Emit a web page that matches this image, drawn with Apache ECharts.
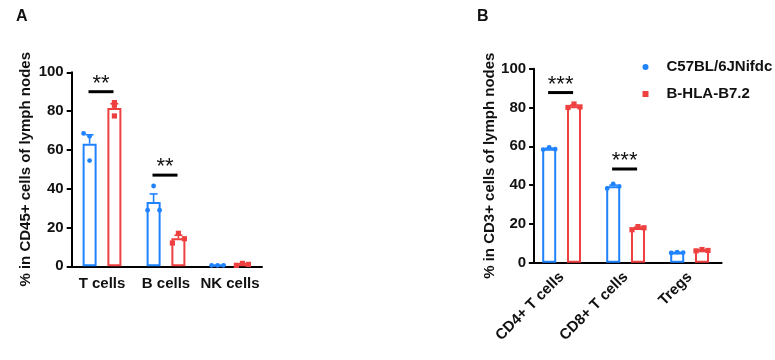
<!DOCTYPE html>
<html>
<head>
<meta charset="utf-8">
<script src="https://cdn.jsdelivr.net/npm/echarts@6/dist/echarts.min.js"></script>
<style>html,body{margin:0;padding:0;background:#fff;}#c{width:775px;height:360px;}</style>
</head>
<body>
<div id="c"></div>
<script>
// ---------- DATA ----------
const seriesNames = ['C57BL/6JNifdc', 'B-HLA-B7.2'];

// Panel A
const catsA = ['T cells', 'B cells', 'NK cells'];
const wtMeanA = [63.2, 33.1, 0.5];
const wtSemA = [4.6, 4.2, 0.05];
const wtPtsA = [[68.5, 67, 54.5], [41.4, 28.9, 28.9], [0.5, 0.5, 0.5]];
const koMeanA = [81.6, 14.4, 1.0];
const koSemA = [2.2, 1.6, 0.3];
const koPtsA = [[84.4, 83, 77.5], [12, 17, 14.2], [0.5, 1.5, 1.0]];
const sigYA = [90, 47, null];
const sigLabA = ['**', '**', ''];

// Panel B
const catsB = ['CD4+ T cells', 'CD8+ T cells', 'Tregs'];
const wtMeanB = [58.7, 39.4, 5.2];
const wtSemB = [0.35, 0.6, 0.15];
const wtPtsB = [[58.3, 59.4, 58.5], [38.3, 40.6, 39.3], [5.0, 5.5, 5.2]];
const koMeanB = [80.7, 17.9, 6.4];
const koSemB = [0.55, 0.45, 0.2];
const koPtsB = [[80.0, 81.8, 80.3], [17.0, 18.6, 18.0], [6.1, 6.8, 6.3]];
const sigYB = [87.7, 48.3, null];
const sigLabB = ['***', '***', ''];

const yTicks = [0, 20, 40, 60, 80, 100];

// ---------- STYLE ----------
const BLUE = '#1f82ff';
const RED = '#ef4040';
const FONT = '"Liberation Sans", Arial, sans-serif';
const GROUP_OFF = 12.4;   // px from category centre to each bar centre
const JIT = 6;            // px horizontal jitter step for points
const jitA = { wt: [[-1, 0, 0], [0, -1, 1], [-1, 0, 1]], ko: [[0, 0, 0], [-1, 0, 1], [-1, 0, 1]] };
const jitB = { wt: [[-1, 0, 1], [-1, 0, 1], [-1, 0, 1]], ko: [[-1, 0, 1], [-1, 0, 1], [-1, 0, 1]] };

function ptsData(pts, jit) {
  const out = [];
  pts.forEach((arr, ci) => arr.forEach((v, k) => out.push([ci, v, jit[ci][k]])));
  return out;
}

function barSeries(name, data, color, axisIdx) {
  return {
    name: name, type: 'bar', xAxisIndex: axisIdx, yAxisIndex: axisIdx,
    data: data, barWidth: 14, barGap: '77%',
    itemStyle: { color: '#fff', borderColor: color, borderWidth: 2 },
    silent: true, z: 2
  };
}

function errSeries(means, sems, color, sign, axisIdx) {
  return {
    type: 'custom', xAxisIndex: axisIdx, yAxisIndex: axisIdx, z: 3, silent: true,
    data: means.map((m, i) => [i, m, sems[i]]),
    renderItem: function (params, api) {
      const c = api.value(0), m = api.value(1), s = api.value(2);
      const p0 = api.coord([c, m]);
      const p1 = api.coord([c, m + s]);
      const x = p0[0] + sign * GROUP_OFF;
      return {
        type: 'group', children: [
          { type: 'line', shape: { x1: x, y1: p0[1], x2: x, y2: p1[1] }, style: { stroke: color, lineWidth: 1.6 } },
          { type: 'line', shape: { x1: x - 4, y1: p1[1], x2: x + 4, y2: p1[1] }, style: { stroke: color, lineWidth: 1.6 } }
        ]
      };
    }
  };
}

function ptSeries(data, color, sign, shape, axisIdx) {
  return {
    type: 'custom', xAxisIndex: axisIdx, yAxisIndex: axisIdx, z: 4, silent: true,
    data: data,
    renderItem: function (params, api) {
      const p = api.coord([api.value(0), api.value(1)]);
      const x = p[0] + sign * GROUP_OFF + api.value(2) * JIT;
      if (shape === 'circle') {
        return { type: 'circle', shape: { cx: x, cy: p[1], r: 2.4 }, style: { fill: color } };
      }
      return { type: 'rect', shape: { x: x - 2.6, y: p[1] - 2.6, width: 5.2, height: 5.2 }, style: { fill: color } };
    }
  };
}

function sigSeries(ys, labs, axisIdx) {
  const d = [];
  ys.forEach((y, i) => { if (y !== null) d.push([i, y, labs[i]]); });
  return {
    type: 'custom', xAxisIndex: axisIdx, yAxisIndex: axisIdx, z: 5, silent: true,
    data: d,
    renderItem: function (params, api) {
      const i = params.dataIndex;
      const p = api.coord([d[i][0], d[i][1]]);
      return {
        type: 'group', children: [
          { type: 'line', shape: { x1: p[0] - 13.5, y1: p[1], x2: p[0] + 11.5, y2: p[1] }, style: { stroke: '#000', lineWidth: 3 } },
          { type: 'text', style: { text: d[i][2], x: p[0] - 1, y: p[1] - 8, align: 'center', verticalAlign: 'middle',
              fill: '#111', font: 'normal 22px ' + FONT } }
        ]
      };
    }
  };
}

const axisTxt = { color: '#111', fontFamily: FONT, fontWeight: 'bold', fontSize: 15 };

function xAxis(cats, gridIdx, rotate) {
  return {
    type: 'category', gridIndex: gridIdx, data: cats,
    axisLine: { lineStyle: { color: '#000', width: 2 } },
    axisTick: { alignWithLabel: true, length: 6, lineStyle: { color: '#000', width: 2 } },
    axisLabel: Object.assign({ margin: rotate ? 12 : 10, rotate: rotate, interval: 0 }, axisTxt)
  };
}

function yAxis(name, gridIdx, offset, gap) {
  return {
    type: 'value', gridIndex: gridIdx, min: yTicks[0], max: yTicks[yTicks.length - 1], interval: 20,
    offset: offset,
    name: name, nameLocation: 'middle', nameGap: gap, nameTextStyle: axisTxt,
    splitLine: { show: false },
    axisLine: { show: true, lineStyle: { color: '#000', width: 2 } },
    axisTick: { show: true, length: 5, lineStyle: { color: '#000', width: 2 } },
    axisLabel: Object.assign({ margin: 8 }, axisTxt)
  };
}

const option = {
  backgroundColor: '#fff',
  animation: false,
  title: [
    { text: 'A', left: 11, top: 4, textStyle: { fontFamily: FONT, fontWeight: 'bold', fontSize: 16, color: '#111' } },
    { text: 'B', left: 472, top: 4, textStyle: { fontFamily: FONT, fontWeight: 'bold', fontSize: 16, color: '#111' } }
  ],
  legend: {
    orient: 'vertical', left: 637.5, top: 53, itemWidth: 6, itemHeight: 6, itemGap: 9,
    selectedMode: false,
    textStyle: { fontFamily: FONT, fontWeight: 'bold', fontSize: 15, color: '#111', padding: [0, 0, 0, 13], lineHeight: 18 },
    data: [
      { name: seriesNames[0], icon: 'circle', itemStyle: { color: BLUE, borderWidth: 0 } },
      { name: seriesNames[1], icon: 'rect', itemStyle: { color: RED, borderWidth: 0 } }
    ]
  },
  grid: [
    { left: 70, top: 72.3, width: 192, height: 194 },
    { left: 529.6, top: 68.7, width: 192, height: 194 }
  ],
  xAxis: [xAxis(catsA, 0, 0), xAxis(catsB, 1, 45)],
  yAxis: [yAxis('% in CD45+ cells of lymph nodes', 0, -1.7, 38), yAxis('% in CD3+ cells of lymph nodes', 1, -4.5, 36)],
  series: [
    barSeries(seriesNames[0], wtMeanA, BLUE, 0),
    barSeries(seriesNames[1], koMeanA, RED, 0),
    errSeries(wtMeanA, wtSemA, BLUE, -1, 0),
    errSeries(koMeanA, koSemA, RED, 1, 0),
    ptSeries(ptsData(wtPtsA, jitA.wt), BLUE, -1, 'circle', 0),
    ptSeries(ptsData(koPtsA, jitA.ko), RED, 1, 'rect', 0),
    sigSeries(sigYA, sigLabA, 0),

    barSeries(seriesNames[0], wtMeanB, BLUE, 1),
    barSeries(seriesNames[1], koMeanB, RED, 1),
    errSeries(wtMeanB, wtSemB, BLUE, -1, 1),
    errSeries(koMeanB, koSemB, RED, 1, 1),
    ptSeries(ptsData(wtPtsB, jitB.wt), BLUE, -1, 'circle', 1),
    ptSeries(ptsData(koPtsB, jitB.ko), RED, 1, 'rect', 1),
    sigSeries(sigYB, sigLabB, 1)
  ]
};

const chart = echarts.init(document.getElementById('c'), null, { renderer: 'canvas' });
chart.setOption(option);
</script>
</body>
</html>
